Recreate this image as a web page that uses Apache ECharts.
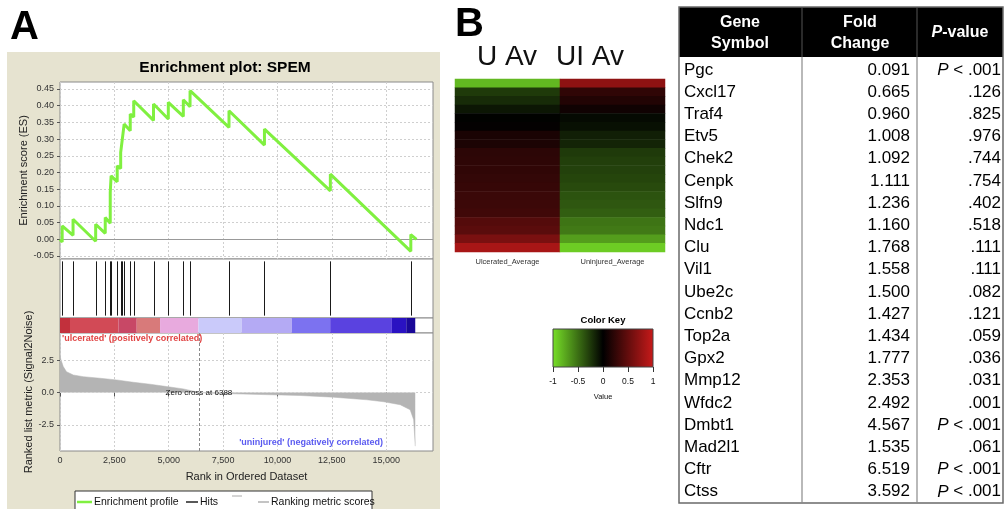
<!DOCTYPE html>
<html><head><meta charset="utf-8">
<script src="https://cdn.jsdelivr.net/npm/echarts@6/dist/echarts.min.js"></script>
<style>html,body{margin:0;padding:0;background:#fff}#c{width:1005px;height:509px}</style>
</head><body><div id="c"></div>
<script>
// ---------- DATA ----------
const esProfile = [[0,0],[100,-0.008],[100,0.040],[600,0.012],[600,0.060],[1640,-0.006],[1640,0.045],[2080,0.018],[2080,0.065],[2310,0.048],[2310,0.140],[2350,0.137],[2350,0.190],[2630,0.172],[2630,0.220],[2790,0.212],[2790,0.260],[2870,0.255],[2870,0.302],[2950,0.298],[2950,0.345],[3230,0.325],[3230,0.375],[3390,0.366],[3390,0.415],[4300,0.356],[4300,0.405],[4980,0.360],[4980,0.410],[5670,0.368],[5670,0.418],[5980,0.397],[5980,0.445],[7770,0.335],[7770,0.385],[9400,0.282],[9400,0.330],[12430,0.145],[12430,0.195],[16130,-0.036],[16130,0.014],[16390,0.0]];
const hitRanks = [100,600,1640,2080,2310,2350,2630,2790,2870,2950,3230,3390,4300,4980,5670,5980,7770,9400,12430,16130];
const rankBandEdges = [0,460,2684,3528,4601,6365,8359,10659,12423,15260,15920,16334];
const rankedMetric = [[0,2.8],[50,2.5],[150,2.0],[300,1.6],[610,1.35],[1070,1.22],[1840,1.1],[2600,0.97],[3370,0.79],[4140,0.64],[4900,0.46],[5670,0.28],[6200,0.08],[6388,0],[7000,-0.05],[7975,-0.1],[11040,-0.23],[12580,-0.36],[14110,-0.56],[14880,-0.71],[15640,-0.94],[16100,-1.33],[16260,-2.09],[16334,-4.13]];
const zeroCross = 6388;
const rankTicks = [0,2500,5000,7500,10000,12500,15000];
const esTicks = [-0.05,0,0.05,0.10,0.15,0.20,0.25,0.30,0.35,0.40,0.45];
const metricTicks = [-2.5,0,2.5];
const keyTicks = [-1,-0.5,0,0.5,1];

const genes = ['Pgc','Cxcl17','Traf4','Etv5','Chek2','Cenpk','Slfn9','Ndc1','Clu','Vil1','Ube2c','Ccnb2','Top2a','Gpx2','Mmp12','Wfdc2','Dmbt1','Mad2l1','Cftr','Ctss'];
const uAv  = [-0.82,-0.26,-0.19,-0.10,-0.01,0.02,0.13,0.14,0.22,0.23,0.24,0.255,0.27,0.29,0.30,0.32,0.42,0.45,0.61,0.84];
const uiAv = [0.71,0.24,0.17,0.08,-0.045,-0.07,-0.14,-0.16,-0.26,-0.28,-0.29,-0.31,-0.33,-0.37,-0.39,-0.42,-0.52,-0.54,-0.70,-0.91];
const foldChange = ['0.091','0.665','0.960','1.008','1.092','1.111','1.236','1.160','1.768','1.558','1.500','1.427','1.434','1.777','2.353','2.492','4.567','1.535','6.519','3.592'];
const pValue = ['P < .001','.126','.825','.976','.744','.754','.402','.518','.111','.111','.082','.121','.059','.036','.031','.001','P < .001','.061','P < .001','P < .001'];
const heatCols = ['Ulcerated_Average','Uninjured_Average'];

// ---------- STYLE ----------
const FF = "'Liberation Sans', Arial, sans-serif";
const bandColors = ['#c2303c','#d24a56','#c84866','#d87a7a','#e8aade','#cacafa','#b4aaf4','#7c72f0','#5a42e0','#2a12c2','#1a0898'];
const XMAX = 17150;
const heatColors = ['#78e028','#000000','#c81a1a'];

const chart = echarts.init(document.getElementById('c'), null, {renderer:'canvas'});
const gridBase = {left:60, width:373, show:true, backgroundColor:'#fff', borderColor:'#8a8a8a', borderWidth:1, containLabel:false};
const dash = {color:'#cfcfcf', type:[2,2], width:1};

function xAxisFor(i, showLabels){
  return {type:'value', gridIndex:i, min:0, max:XMAX, interval:2500,
    axisLine:{show:false},
    axisTick:{show:showLabels, customValues:rankTicks, length:4, lineStyle:{color:'#555'}},
    axisLabel:{show:showLabels, customValues:rankTicks, fontSize:9, color:'#333', fontFamily:FF, margin:5,
      formatter:v=>Number(v).toLocaleString('en-US')},
    splitLine:{show:(i===0||i===3), lineStyle:dash},
    name: showLabels ? 'Rank in Ordered Dataset' : '', nameLocation:'middle', nameGap:20,
    nameTextStyle:{fontSize:11, color:'#222', fontFamily:FF}};
}

const heatData = [];
genes.forEach((g,i)=>{ heatData.push([0,i,uAv[i]]); heatData.push([1,i,uiAv[i]]); });

// table graphics
const tbl = [];
const tL=679, tR=1003, tT=7, tH=57, tB=503, c1=802, c2=917;
tbl.push({type:'rect', shape:{x:tL,y:tT,width:tR-tL,height:tH-tT}, style:{fill:'#000'}});
tbl.push({type:'rect', shape:{x:tL,y:tT,width:tR-tL,height:tB-tT}, style:{fill:'none', stroke:'#6a6a6a', lineWidth:1.5}});
[c1,c2].forEach(x=>{
  tbl.push({type:'line', shape:{x1:x,y1:tT,x2:x,y2:tH}, style:{stroke:'#555', lineWidth:1}});
  tbl.push({type:'line', shape:{x1:x,y1:tH,x2:x,y2:tB}, style:{stroke:'#8a8a8a', lineWidth:1.2}});
});
const hdr = {fill:'#fff', fontSize:16, fontWeight:'bold', fontFamily:FF, align:'center', verticalAlign:'middle'};
tbl.push({type:'text', x:740, y:23, style:Object.assign({text:'Gene'},hdr)});
tbl.push({type:'text', x:740, y:44, style:Object.assign({text:'Symbol'},hdr)});
tbl.push({type:'text', x:860, y:23, style:Object.assign({text:'Fold'},hdr)});
tbl.push({type:'text', x:860, y:44, style:Object.assign({text:'Change'},hdr)});
tbl.push({type:'text', x:960, y:33, style:Object.assign({text:'{i|P}-value', rich:{i:{fontStyle:'italic', fontWeight:'bold', fontSize:16, fontFamily:FF, fill:'#fff'}}},hdr)});
const bodyFont = {fill:'#000', fontSize:17, fontFamily:FF, verticalAlign:'middle'};
genes.forEach((g,i)=>{
  const y = 70 + i*22.2;
  tbl.push({type:'text', x:684, y:y, style:Object.assign({text:g, align:'left'},bodyFont)});
  tbl.push({type:'text', x:910, y:y, style:Object.assign({text:foldChange[i], align:'right'},bodyFont)});
  const p = pValue[i];
  const t = p.startsWith('P') ? '{i|P}' + p.slice(1) : p;
  tbl.push({type:'text', x:1001, y:y, style:Object.assign({text:t, align:'right', rich:{i:{fontStyle:'italic', fontSize:17, fontFamily:FF, fill:'#000'}}},bodyFont)});
});

const legendY = 502;
const graphics = [
  {type:'rect', z:-10, shape:{x:7,y:52,width:433,height:470}, style:{fill:'#e6e3d0'}},
  {type:'text', x:10, y:28, style:{text:'A', fontSize:40, fontWeight:'bold', fontFamily:FF, fill:'#000', verticalAlign:'middle'}},
  {type:'text', x:455, y:25, style:{text:'B', fontSize:40, fontWeight:'bold', fontFamily:FF, fill:'#000', verticalAlign:'middle'}},
  {type:'text', x:225, y:68, style:{text:'Enrichment plot: SPEM', fontSize:15.5, fontWeight:'bold', fontFamily:FF, fill:'#000', align:'center', verticalAlign:'middle'}},
  {type:'text', x:62, y:339, z:50, style:{text:"'ulcerated' (positively correlated)", fontSize:9, fontWeight:'bold', fontFamily:FF, fill:'#e04444', verticalAlign:'middle'}},
  {type:'text', x:383, y:443, z:50, style:{text:"'uninjured' (negatively correlated)", fontSize:9, fontWeight:'bold', fontFamily:FF, fill:'#5a5af0', align:'right', verticalAlign:'middle'}},
  {type:'text', x:507, y:57, style:{text:'U Av', fontSize:28, fontFamily:FF, fill:'#111', align:'center', verticalAlign:'middle'}},
  {type:'text', x:590, y:57, style:{text:'UI Av', fontSize:28, fontFamily:FF, fill:'#111', align:'center', verticalAlign:'middle'}},
  {type:'text', x:603, y:320, style:{text:'Color Key', fontSize:9.5, fontWeight:'bold', fontFamily:FF, fill:'#000', align:'center', verticalAlign:'middle'}},
  // legend box
  {type:'rect', z:50, shape:{x:75,y:491,width:297,height:30}, style:{fill:'#fff', stroke:'#333', lineWidth:1}},
  {type:'line', z:51, shape:{x1:77,y1:legendY,x2:92,y2:legendY}, style:{stroke:'#80f040', lineWidth:2.5}},
  {type:'text', z:51, x:94, y:legendY, style:{text:'Enrichment profile', fontSize:10.5, fontFamily:FF, fill:'#111', verticalAlign:'middle'}},
  {type:'line', z:51, shape:{x1:186,y1:legendY,x2:198,y2:legendY}, style:{stroke:'#222', lineWidth:1.5}},
  {type:'text', z:51, x:200, y:legendY, style:{text:'Hits', fontSize:10.5, fontFamily:FF, fill:'#111', verticalAlign:'middle'}},
  {type:'line', z:51, shape:{x1:232,y1:496,x2:242,y2:496}, style:{stroke:'#aaa', lineWidth:1}},
  {type:'line', z:51, shape:{x1:258,y1:legendY,x2:269,y2:legendY}, style:{stroke:'#c4c4c4', lineWidth:2}},
  {type:'text', z:51, x:271, y:legendY, style:{text:'Ranking metric scores', fontSize:10.5, fontFamily:FF, fill:'#111', verticalAlign:'middle'}}
].concat(tbl);

const option = {
  animation:false,
  backgroundColor:'#fff',
  grid:[
    Object.assign({top:82, height:177}, gridBase),
    Object.assign({top:259, height:59}, gridBase),
    Object.assign({top:318, height:15}, gridBase),
    Object.assign({top:333, height:118}, gridBase),
    {left:455, top:79, width:210, height:173, show:false},
    {left:553, top:329, width:100, height:38, show:true, borderColor:'#444', borderWidth:1,
      backgroundColor:new echarts.graphic.LinearGradient(0,0,1,0,[{offset:0,color:heatColors[0]},{offset:0.5,color:heatColors[1]},{offset:1,color:heatColors[2]}])}
  ],
  xAxis:[
    xAxisFor(0,false), xAxisFor(1,false), xAxisFor(2,false), xAxisFor(3,true),
    {type:'category', gridIndex:4, data:heatCols, axisLine:{show:false}, axisTick:{show:false},
      axisLabel:{fontSize:7.5, color:'#333', fontFamily:FF, margin:6}},
    {type:'value', gridIndex:5, min:-1, max:1, interval:0.5, axisLine:{show:false},
      axisTick:{show:true, length:5, lineStyle:{color:'#333'}}, splitLine:{show:false},
      axisLabel:{fontSize:8.5, color:'#111', fontFamily:FF, margin:10, formatter:v=>String(v)},
      name:'Value', nameLocation:'middle', nameGap:26, nameTextStyle:{fontSize:7.5, color:'#111', fontFamily:FF}}
  ],
  yAxis:[
    {type:'value', gridIndex:0, min:-0.059, max:0.471, axisLine:{show:false}, splitLine:{show:false},
      axisTick:{show:true, customValues:esTicks, length:3, lineStyle:{color:'#555'}},
      axisLabel:{customValues:esTicks, fontSize:9, color:'#333', fontFamily:FF, margin:6, formatter:v=>Number(v).toFixed(2)},
      name:'Enrichment score (ES)', nameLocation:'middle', nameGap:31, nameTextStyle:{fontSize:11, color:'#222', fontFamily:FF}},
    {type:'value', gridIndex:1, min:0, max:1, show:false},
    {type:'value', gridIndex:2, min:0, max:1, show:false},
    {type:'value', gridIndex:3, min:-4.5, max:4.58, axisLine:{show:false}, splitLine:{show:false},
      axisTick:{show:true, customValues:metricTicks, length:3, lineStyle:{color:'#555'}},
      axisLabel:{customValues:metricTicks, fontSize:9, color:'#333', fontFamily:FF, margin:6, formatter:v=>Number(v).toFixed(1)},
      name:'Ranked list metric (Signal2Noise)', nameLocation:'middle', nameGap:26, nameTextStyle:{fontSize:11, color:'#222', fontFamily:FF}},
    {type:'category', gridIndex:4, data:genes, inverse:true, show:false},
    {type:'value', gridIndex:5, min:0, max:1, show:false}
  ],
  visualMap:{show:false, type:'continuous', min:-1, max:1, seriesIndex:7, inRange:{color:heatColors}},
  series:[
    // 0: ES grid lines
    {type:'line', xAxisIndex:0, yAxisIndex:0, data:[], z:1, silent:true,
      markLine:{silent:true, symbol:['none','none'], label:{show:false},
        data: esTicks.map(v=>({yAxis:v, lineStyle: v===0 ? {color:'#999', type:'solid', width:1} : dash}))}},
    // 1: enrichment profile
    {type:'line', name:'Enrichment profile', xAxisIndex:0, yAxisIndex:0, data:esProfile, symbol:'none', z:5,
      lineStyle:{color:'#80f040', width:3}, silent:true},
    // 2: hits
    {type:'custom', name:'Hits', xAxisIndex:1, yAxisIndex:1, data:hitRanks.map(r=>[r,0]), silent:true,
      renderItem:(p,api)=>{const a=api.coord([api.value(0),0.04]); const b=api.coord([api.value(0),0.96]);
        return {type:'line', shape:{x1:Math.round(a[0])+0.5,y1:a[1],x2:Math.round(a[0])+0.5,y2:b[1]}, style:{stroke:'#1a1a1a', lineWidth:1}};}},
    // 3: ranked list color bar
    {type:'custom', xAxisIndex:2, yAxisIndex:2, silent:true,
      data:rankBandEdges.slice(0,-1).map((s,i)=>[s, rankBandEdges[i+1], i]),
      renderItem:(p,api)=>{const a=api.coord([api.value(0),1]); const b=api.coord([api.value(1),0]);
        return {type:'rect', shape:{x:a[0],y:a[1],width:b[0]-a[0],height:b[1]-a[1]}, style:{fill:bandColors[api.value(2)]}};}},
    // 4: ranked grid lines
    {type:'line', xAxisIndex:3, yAxisIndex:3, data:[], z:1, silent:true,
      markLine:{silent:true, symbol:['none','none'], label:{show:false},
        data: metricTicks.map(v=>({yAxis:v, lineStyle:dash}))}},
    // 5: ranked metric
    {type:'line', name:'Ranking metric scores', xAxisIndex:3, yAxisIndex:3, data:rankedMetric, symbol:'none', z:3, silent:true,
      lineStyle:{color:'#b4b4b4', width:0.5}, areaStyle:{color:'#b4b4b4', opacity:1},
      markLine:{silent:true, symbol:['none','none'], label:{show:false},
        data:[{xAxis:zeroCross, lineStyle:{color:'#8a8a8a', type:[3,2], width:1}}]},
      markPoint:{silent:true, symbol:'rect', symbolSize:0, data:[{coord:[zeroCross,0]}],
        label:{show:true, position:'inside', formatter:'Zero cross at ' + zeroCross, fontSize:8, color:'#111', fontFamily:FF}}},
    // 6: dummy for color key grid
    {type:'line', xAxisIndex:5, yAxisIndex:5, data:[]},
    // 7: heatmap
    {type:'heatmap', xAxisIndex:4, yAxisIndex:4, data:heatData, silent:true, itemStyle:{borderWidth:0}}
  ],
  graphic:graphics
};
chart.setOption(option);
</script></body></html>
